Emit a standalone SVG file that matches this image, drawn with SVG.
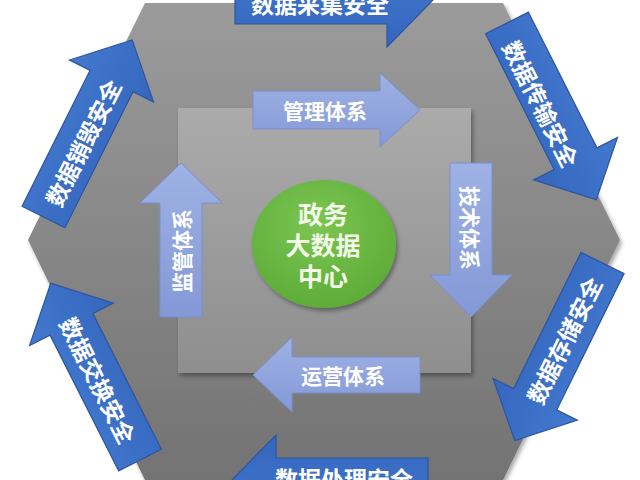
<svg xmlns="http://www.w3.org/2000/svg" xmlns:xlink="http://www.w3.org/1999/xlink" width="640" height="480" viewBox="0 0 640 480">
  <defs>
    <linearGradient id="hexFill" x1="0" y1="0" x2="0" y2="1">
      <stop offset="0" stop-color="#9b9b9b"/>
      <stop offset="1" stop-color="#737373"/>
    </linearGradient>
    <linearGradient id="sqFill" x1="0" y1="0" x2="0" y2="1">
      <stop offset="0" stop-color="#ababab"/>
      <stop offset="1" stop-color="#8e8e8e"/>
    </linearGradient>
    <radialGradient id="greenFill" cx="0.45" cy="0.35" r="0.7">
      <stop offset="0" stop-color="#7cc653"/>
      <stop offset="1" stop-color="#5caa36"/>
    </radialGradient>
    <linearGradient id="innerFill" x1="0" y1="0" x2="0" y2="1">
      <stop offset="0" stop-color="#9fb2e5"/>
      <stop offset="1" stop-color="#8498d6"/>
    </linearGradient>
    <linearGradient id="outerFill" x1="0" y1="0" x2="0" y2="1">
      <stop offset="0" stop-color="#4279cf"/>
      <stop offset="1" stop-color="#3566bd"/>
    </linearGradient>
    <filter id="shadow" x="-10%" y="-10%" width="130%" height="130%">
      <feDropShadow dx="2" dy="3" stdDeviation="2" flood-color="#000" flood-opacity="0.35"/>
    </filter>
    <path id="oa" d="M0,-24 H152 V-47 L198,0 L152,47 V24 H0 Z"/>
    <style>
      .outer { fill: url(#outerFill); stroke: #2b55a0; stroke-width: 1.2; }
      .inner { fill: url(#innerFill); stroke: #7a8fcf; stroke-width: 1; }
      .lbl { font-family: "Noto Sans CJK SC", "Noto Sans", sans-serif; font-weight: bold; fill: #ffffff; text-anchor: middle; dominant-baseline: central; }
      .olbl { font-size: 23px; }
      .ilbl { font-size: 21px; }
      .clbl { font-size: 25px; fill: #f2fae8; }
    </style>
  </defs>

  <rect x="0" y="0" width="640" height="480" fill="#ffffff"/>

  <g id="hexagon">
    <polygon points="145,3 503,3 620,240 503,480 145,480 28,240" fill="url(#hexFill)" filter="url(#shadow)"/>
  </g>

  <g id="inner-square">
    <rect x="178" y="108" width="293" height="265" fill="url(#sqFill)" filter="url(#shadow)"/>
  </g>

  <g id="center">
    <ellipse cx="324" cy="244" rx="72" ry="64" fill="url(#greenFill)" filter="url(#shadow)"/>
    <text class="lbl clbl"><tspan x="323" y="213">政务</tspan><tspan x="323" y="244">大数据</tspan><tspan x="323" y="275">中心</tspan></text>
  </g>

  <g id="guanli">
    <polygon class="inner" points="253,91 380,91 380,73 420,110 380,147 380,129 253,129"/>
    <text class="lbl ilbl" x="325" y="110">管理体系</text>
  </g>
  <g id="jishu">
    <polygon class="inner" points="450,163 492,163 492,275 512,275 471,317 430,275 450,275"/>
    <text class="lbl ilbl" transform="translate(471,228) rotate(90)">技术体系</text>
  </g>
  <g id="yunying">
    <polygon class="inner" points="420,357 420,393 292,393 292,412 253,375 292,337 292,357"/>
    <text class="lbl ilbl" x="343" y="375">运营体系</text>
  </g>
  <g id="jianguan">
    <polygon class="inner" points="202,317 160,317 160,203 140,203 181,163 222,203 202,203"/>
    <text class="lbl ilbl" transform="translate(181,251) rotate(-90)">监管体系</text>
  </g>

  <g id="caiji">
    <use href="#oa" class="outer" transform="translate(235,0)"/>
    <text class="lbl olbl" transform="translate(320,3)">数据采集安全</text>
  </g>
  <g id="chuanshu">
    <use href="#oa" class="outer" transform="translate(507,23) rotate(63.2)"/>
    <text class="lbl olbl" transform="translate(541.5,103.5) rotate(63.2)">数据传输安全</text>
  </g>
  <g id="cunchu">
    <use href="#oa" class="outer" transform="translate(602.5,263) rotate(116.3)"/>
    <text class="lbl olbl" transform="translate(563.5,340) rotate(-63.7)">数据存储安全</text>
  </g>
  <g id="chuli">
    <use href="#oa" class="outer" transform="translate(428,482) rotate(180)"/>
    <text class="lbl olbl" transform="translate(344,478)">数据处理安全</text>
  </g>
  <g id="jiaohuan">
    <use href="#oa" class="outer" transform="translate(140,460) rotate(243.2)"/>
    <text class="lbl olbl" transform="translate(98.5,380) rotate(63.2)">数据交换安全</text>
  </g>
  <g id="xiaohui">
    <use href="#oa" class="outer" transform="translate(43.5,217) rotate(-63.4)"/>
    <text class="lbl olbl" transform="translate(82.5,142.5) rotate(-63.4)">数据销毁安全</text>
  </g>

  <g id="connectors"/>
</svg>
